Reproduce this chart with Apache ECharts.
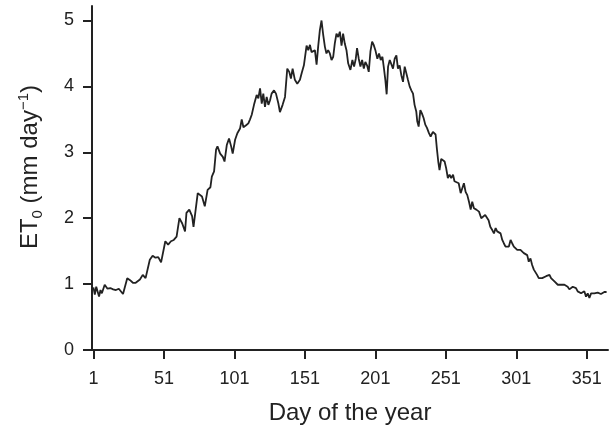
<!DOCTYPE html>
<html>
<head>
<meta charset="utf-8">
<script src="https://cdn.jsdelivr.net/npm/echarts@6/dist/echarts.min.js"></script>
<style>
    html, body { margin: 0; padding: 0; background: #fff; }
    #main { width: 614px; height: 430px; }
</style>
</head>
<body>
<div id="main"></div>
<script>
// day of the year
var days = [
    1, 2, 3, 5, 6, 7, 9, 11, 13, 15, 17, 19, 20, 22, 25, 27, 29, 31, 34, 36, 38, 39,
    41, 43, 45, 47, 49, 52, 54, 56, 58, 60, 62, 63, 64, 66, 67, 69, 71, 72, 75, 76, 78,
    80, 82, 84, 85, 86.6, 88, 89, 90.9, 92.8, 94, 95.6, 97.2, 98.7, 99.8,
    101.5, 103.1, 105, 106.2, 107.4, 109.3, 110.9, 112.1, 113.3, 114.9, 116.8, 118, 119.2,
    120.4, 121.5, 122.7, 123.9, 125.1, 126.3, 127.4, 129.1, 130.5, 132.2, 133.3, 135.2,
    136.9, 138.5, 139.9, 141.1, 142.3, 143.9, 145.6, 147.5, 148.7, 150.3, 152.2, 153.4,
    154.6, 155.7, 156.9, 158.1, 159.3, 160.4, 161.6, 162.8, 164, 165.2, 166.3, 167.5,
    168.7, 169.9, 171.1, 172.2, 173.4, 174.6, 175.8, 177, 178.1, 179.3, 180.5, 181.7,
    183.3, 184.7, 185.9, 187.1, 188, 189.2, 190.4, 191.6, 192.8, 193.9, 195.1, 196.3,
    197.5, 198.7, 199.8, 201, 202.4, 203.6, 204.8, 206, 207.1, 208.1, 209, 210, 211.2,
    212.3, 213.5, 214.7, 215.9, 217, 218.2, 219.4, 220.6, 221.8, 223, 224.1, 225.3,
    226.5, 227.7, 228.8, 230, 230.7, 231.7, 232.9, 234, 235.2, 236.4, 237.6, 239,
    240.2, 241.8, 243.7, 244.6, 245.6, 246.5, 247.7, 248.9, 250.1, 251.2, 252.4, 253.6,
    254.8, 256.1, 257.1, 258.4, 260.1, 261.5, 262.7, 263.8, 265, 266.2, 267.4, 268.6,
    269.7, 270.9, 272.6, 274.5, 276.1, 277.3, 278.9, 280.1, 281.3, 282.5, 283.9, 285.1,
    286.3, 287.4, 288.6, 289.8, 291, 292.1, 293.3, 294.5, 295.7, 296.9, 298, 299.2,
    300.4, 301.6, 302.8, 303.9, 305.1, 306.3, 307.5, 308.7, 309.8, 311, 312.2, 313.4,
    314.5, 315.7, 316.9, 318.1, 319.3, 320.4, 322.1, 323.3, 324.5, 325.6, 326.8, 328,
    329.2, 330.4, 331.5, 332.7, 333.9, 335.1, 336.2, 337.4, 338.6, 339.8, 341, 342.1,
    343.3, 344.5, 345.7, 346.9, 348, 349.2, 350.4, 351.6, 352.8, 354, 355.1, 356.3,
    357.5, 358.7, 359.8, 361, 362.2, 363.4, 364.5, 365
];
// reference evapotranspiration ET0 (mm/day)
var et0 = [
    0.95, 0.84, 0.96, 0.81, 0.91, 0.86, 0.99, 0.93, 0.94, 0.92, 0.91, 0.93, 0.96, 0.85, 1.09, 1.06, 1.02, 1.02, 1.07, 1.14, 1.09, 1.08,
    1.37, 1.43, 1.40, 1.41, 1.33, 1.65, 1.60, 1.65, 1.67, 1.72, 2.00, 2.02, 1.92, 1.80, 2.08, 2.13, 2.03, 1.87, 2.38, 2.40, 2.33,
    2.18, 2.43, 2.47, 2.63, 2.71, 3.04, 3.09, 2.98, 2.93, 2.86, 3.11, 3.21, 3.09, 2.98,
    3.19, 3.29, 3.36, 3.50, 3.38, 3.41, 3.44, 3.50, 3.57, 3.72, 3.87, 3.82, 3.97,
    3.74, 3.89, 3.69, 3.84, 3.72, 3.79, 3.89, 3.94, 3.89, 3.74, 3.61, 3.72,
    3.84, 4.27, 4.22, 4.12, 4.27, 4.10, 4.04, 4.10, 4.20, 4.32, 4.62, 4.55,
    4.63, 4.52, 4.55, 4.55, 4.33, 4.60, 4.85, 5.00, 4.78, 4.60, 4.50, 4.55,
    4.50, 4.40, 4.45, 4.65, 4.80, 4.75, 4.83, 4.62, 4.80, 4.65, 4.55, 4.35,
    4.25, 4.40, 4.30, 4.42, 4.58, 4.42, 4.30, 4.40, 4.27, 4.37, 4.32, 4.22,
    4.53, 4.68, 4.63, 4.55, 4.42, 4.50, 4.40, 4.45, 4.27, 4.09, 3.88, 4.30, 4.40,
    4.42, 4.27, 4.42, 4.47, 4.27, 4.32, 4.17, 4.07, 4.30, 4.32, 4.10, 4.00,
    3.94, 3.89, 3.72, 3.62, 3.47, 3.39, 3.64, 3.59, 3.52, 3.42, 3.37, 3.29,
    3.24, 3.31, 3.27, 3.06, 2.86, 2.73, 2.90, 2.88, 2.86, 2.76, 2.61, 2.66,
    2.61, 2.66, 2.56, 2.55, 2.53, 2.38, 2.35, 2.53, 2.40, 2.35, 2.25, 2.13,
    2.25, 2.15, 2.13, 2.10, 2.00, 1.97, 2.05, 2.08, 1.97, 1.87, 1.82, 1.77,
    1.85, 1.80, 1.82, 1.77, 1.67, 1.62, 1.57, 1.60, 1.57, 1.67, 1.62, 1.57,
    1.55, 1.52, 1.55, 1.52, 1.50, 1.47, 1.47, 1.44, 1.34, 1.39, 1.29, 1.22,
    1.24, 1.14, 1.09, 1.12, 1.09, 1.12, 1.12, 1.12, 1.14, 1.09, 1.07, 1.04,
    1.02, 0.99, 0.96, 0.99, 1.02, 0.99, 1.02, 0.96, 0.92, 0.94, 0.96, 0.99,
    0.94, 0.89, 0.92, 0.86, 0.84, 0.89, 0.81, 0.86, 0.79, 0.86, 0.89, 0.86,
    0.85, 0.87, 0.84, 0.85, 0.86, 0.88, 0.87, 0.88
];
var xTicks = [1, 51, 101, 151, 201, 251, 301, 351];
var yTicks = [0, 1, 2, 3, 4, 5];

var points = [];
for (var i = 0; i < days.length; i++) {
    points.push([days[i], et0[i]]);
}

var ink = '#222';
var font = "'Liberation Sans', Arial, sans-serif";

var myChart = echarts.init(document.getElementById('main'));
var option = {
    animation: false,
    backgroundColor: '#fff',
    grid: { left: 92, right: 6, top: 6, bottom: 80 },
    xAxis: {
        type: 'value',
        min: 0,
        max: 366,
        name: 'Day of the year',
        nameLocation: 'middle',
        nameGap: 51,
        nameTextStyle: { fontSize: 24, color: ink, fontFamily: font },
        axisLine: { show: true, lineStyle: { color: ink, width: 2 } },
        axisTick: { show: true, inside: false, length: 9, customValues: xTicks, lineStyle: { color: ink, width: 2 } },
        axisLabel: { customValues: xTicks, fontSize: 18, color: ink, fontFamily: font, margin: 20 },
        splitLine: { show: false }
    },
    yAxis: {
        type: 'value',
        min: 0,
        max: 5.22,
        name: '{m|ET}{sub|0}{m| (mm day}{sup|−1}{m|)}',
        nameLocation: 'middle',
        nameGap: 47,
        nameTextStyle: {
            color: ink,
            fontFamily: font,
            padding: [0, 0, 0, 22],
            rich: {
                m: { fontSize: 24, color: ink, fontFamily: font, lineHeight: 29 },
                sub: { fontSize: 15, color: ink, fontFamily: font, verticalAlign: 'bottom', lineHeight: 13 },
                sup: { fontSize: 15, color: ink, fontFamily: font, verticalAlign: 'top', lineHeight: 13 }
            }
        },
        axisLine: { show: true, lineStyle: { color: ink, width: 2 } },
        axisTick: { show: true, inside: false, length: 9, customValues: yTicks, lineStyle: { color: ink, width: 2 } },
        axisLabel: { customValues: yTicks, fontSize: 18, color: ink, fontFamily: font, margin: 18 },
        splitLine: { show: false }
    },
    series: [{
        name: 'ET0',
        type: 'line',
        data: points,
        showSymbol: false,
        lineStyle: { color: ink, width: 1.8 }
    }]
};
myChart.setOption(option);
</script>
</body>
</html>
